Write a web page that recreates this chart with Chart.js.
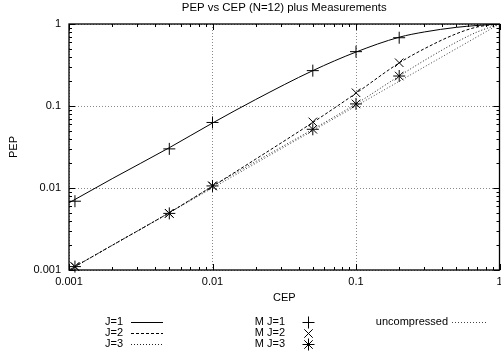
<!DOCTYPE html>
<html><head><meta charset="utf-8">
<script src="https://cdn.jsdelivr.net/npm/chart.js@4"></script>
<style>html,body{margin:0;padding:0;background:#fff}canvas{display:block}</style>
</head><body>
<canvas id="c" width="501" height="355"></canvas>
<script>
// ---- data ----
const cepCurve = [0.001, 0.002, 0.005, 0.01, 0.02, 0.05, 0.1, 0.2, 0.3, 0.5, 0.7, 1];
const pepJ1    = [0.0066, 0.013, 0.031, 0.062, 0.12, 0.27, 0.455, 0.69, 0.8, 0.91, 0.96, 1];
const pepJ2    = [0.001, 0.002, 0.005, 0.0105, 0.0225, 0.063, 0.143, 0.335, 0.5, 0.76, 0.92, 1];
const pepJ3    = [0.001, 0.002, 0.005, 0.0105, 0.021, 0.052, 0.106, 0.232, 0.36, 0.6, 0.8, 1];
const uncompCep = [0.001, 1];
const uncompPep = [0.001, 1];

const mCep = [0.0011, 0.005, 0.01, 0.05, 0.1, 0.2];
const mJ1  = [0.0069, 0.030, 0.063, 0.27, 0.46, 0.68];
const mJ2  = [0.0011, 0.0049, 0.0106, 0.064, 0.145, 0.337];
const mJ3  = [0.0011, 0.0049, 0.0106, 0.052, 0.106, 0.232];

const xTickValues = [0.001, 0.01, 0.1, 1];
const xTickLabels = ['0.001', '0.01', '0.1', '1'];
const yTickValues = [0.001, 0.01, 0.1, 1];
const yTickLabels = ['0.001', '0.01', '0.1', '1'];

const titleText = 'PEP vs CEP (N=12) plus Measurements';
const xTitle = 'CEP';
const yTitle = 'PEP';

// ---- chart ----
const FONT = "'Liberation Sans', Arial, Helvetica, sans-serif";
const toXY = (xs, ys) => xs.map((x, i) => ({x, y: ys[i]}));

function drawMarker(ctx, style, x, y, r) {
  ctx.beginPath();
  if (style === 'cross' || style === 'star') {
    ctx.moveTo(x - r, y); ctx.lineTo(x + r, y);
    ctx.moveTo(x, y - r); ctx.lineTo(x, y + r);
  }
  if (style === 'crossRot' || style === 'star') {
    const d = r * Math.SQRT1_2;
    ctx.moveTo(x - d, y - d); ctx.lineTo(x + d, y + d);
    ctx.moveTo(x - d, y + d); ctx.lineTo(x + d, y - d);
  }
  ctx.stroke();
}

const framePlugin = {
  id: 'frame',
  afterDraw(chart) {
    const {ctx, chartArea: a, scales: {x, y}} = chart;
    ctx.save();
    ctx.strokeStyle = '#000';
    ctx.lineWidth = 1;
    // inward ticks on all four sides (major + minor)
    ctx.beginPath();
    for (let e = -3; e < 0; e++) {
      const d = Math.pow(10, e);
      for (let m = 1; m <= 10; m++) {
        const v = m * d;
        const len = (m === 1 || m === 10) ? 6 : 3;
        const px = Math.round(x.getPixelForValue(v)) + 0.5;
        ctx.moveTo(px, a.bottom); ctx.lineTo(px, a.bottom - len);
        ctx.moveTo(px, a.top); ctx.lineTo(px, a.top + len);
        const py = Math.round(y.getPixelForValue(v)) + 0.5;
        ctx.moveTo(a.left, py); ctx.lineTo(a.left + len, py);
        ctx.moveTo(a.right, py); ctx.lineTo(a.right - len, py);
      }
    }
    ctx.stroke();
    // frame
    ctx.lineWidth = 1.3;
    ctx.strokeRect(a.left, a.top, a.right - a.left, a.bottom - a.top);

    // texts
    ctx.fillStyle = '#000';
    ctx.font = '11px ' + FONT;
    ctx.textBaseline = 'middle';
    ctx.textAlign = 'center';
    const cx = (a.left + a.right) / 2;
    ctx.save();
    ctx.font = '11.4px ' + FONT;
    ctx.fillText(titleText, cx, 8);
    ctx.restore();
    ctx.fillText(xTitle, cx, 298);
    ctx.save();
    ctx.translate(14, (a.top + a.bottom) / 2);
    ctx.rotate(-Math.PI / 2);
    ctx.fillText(yTitle, 0, 0);
    ctx.restore();

    // legend (gnuplot-like key)
    const rows = [322, 333, 344];
    const ds = chart.data.datasets;
    ctx.textAlign = 'right';
    ctx.lineWidth = 1;
    const col1 = [0, 1, 2], col2 = [4, 5, 6];
    col1.forEach((di, i) => {
      const d = ds[di];
      ctx.fillText(d.label, 123, rows[i]);
      ctx.save();
      ctx.strokeStyle = d.borderColor;
      ctx.setLineDash(d.borderDash || []);
      ctx.beginPath();
      ctx.moveTo(131, rows[i] + 0.5); ctx.lineTo(163, rows[i] + 0.5);
      ctx.stroke();
      ctx.restore();
    });
    col2.forEach((di, i) => {
      const d = ds[di];
      ctx.fillText(d.label, 285, rows[i]);
      ctx.save();
      ctx.strokeStyle = '#000';
      drawMarker(ctx, d.pointStyle, 308.5, rows[i] + 0.5, 6);
      ctx.restore();
    });
    const du = ds[3];
    ctx.fillText(du.label, 448, rows[0]);
    ctx.save();
    ctx.strokeStyle = du.borderColor;
    ctx.setLineDash(du.borderDash);
    ctx.beginPath();
    ctx.moveTo(452, rows[0] + 0.5); ctx.lineTo(488, rows[0] + 0.5);
    ctx.stroke();
    ctx.restore();
    ctx.restore();
  }
};

const lineBase = {showLine: true, pointRadius: 0, borderWidth: 1, borderColor: '#000',
  cubicInterpolationMode: 'monotone', fill: false};
const markBase = {showLine: false, pointRadius: 6, pointBorderWidth: 1,
  borderColor: '#000', pointBorderColor: '#000', backgroundColor: '#000', clip: false};

new Chart(document.getElementById('c'), {
  type: 'scatter',
  data: {
    datasets: [
      Object.assign({label: 'J=1', data: toXY(cepCurve, pepJ1)}, lineBase),
      Object.assign({label: 'J=2', data: toXY(cepCurve, pepJ2)}, lineBase, {borderDash: [3, 2]}),
      Object.assign({label: 'J=3', data: toXY(cepCurve, pepJ3)}, lineBase, {borderDash: [1, 2], borderColor: '#222'}),
      Object.assign({label: 'uncompressed', data: toXY(uncompCep, uncompPep)}, lineBase, {borderDash: [1, 2], borderColor: '#444', cubicInterpolationMode: 'default'}),
      Object.assign({label: 'M J=1', data: toXY(mCep, mJ1), pointStyle: 'cross'}, markBase),
      Object.assign({label: 'M J=2', data: toXY(mCep, mJ2), pointStyle: 'crossRot'}, markBase),
      Object.assign({label: 'M J=3', data: toXY(mCep, mJ3), pointStyle: 'star'}, markBase)
    ]
  },
  options: {
    responsive: false,
    animation: false,
    devicePixelRatio: 1,
    layout: {autoPadding: false, padding: {top: 24, right: 1.5, left: 0, bottom: 0}},
    plugins: {legend: {display: false}, title: {display: false}, tooltip: {enabled: false}},
    scales: {
      x: {
        type: 'logarithmic', min: 0.001, max: 1,
        afterFit(s) { s.height = 85; s.paddingLeft = 0; s.paddingRight = 0; },
        afterBuildTicks(s) { s.ticks = xTickValues.map(v => ({value: v})); },
        ticks: {callback: (v, i) => xTickLabels[i], padding: 5, color: '#000',
          font: {family: FONT, size: 11}, maxRotation: 0, autoSkip: false},
        grid: {color: '#8a8a8a', drawTicks: false, lineWidth: 1},
        border: {display: false, dash: [1, 2]}
      },
      y: {
        type: 'logarithmic', min: 0.001, max: 1,
        afterFit(s) { s.width = 69; s.paddingTop = 0; s.paddingBottom = 0; },
        afterBuildTicks(s) { s.ticks = yTickValues.map(v => ({value: v})); },
        ticks: {callback: (v, i) => yTickLabels[i], padding: 8, color: '#000',
          font: {family: FONT, size: 11}, autoSkip: false},
        grid: {color: '#8a8a8a', drawTicks: false, lineWidth: 1},
        border: {display: false, dash: [1, 2]}
      }
    }
  },
  plugins: [framePlugin]
});
</script>
</body></html>
